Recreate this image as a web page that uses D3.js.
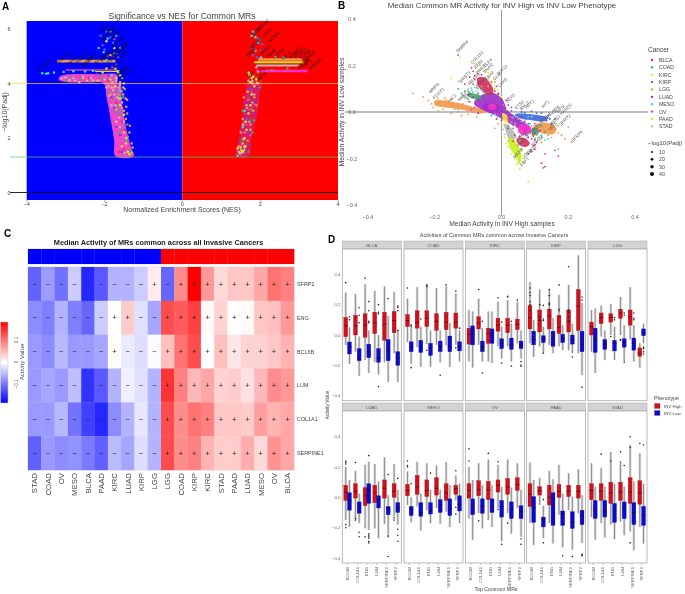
<!DOCTYPE html>
<html><head><meta charset="utf-8">
<script src="https://cdn.jsdelivr.net/npm/d3@7"></script>
<style>html,body{margin:0;padding:0;background:#fff}svg{display:block;filter:blur(.35px)}text{font-family:"Liberation Sans",Arial,sans-serif}</style>
</head><body><svg id="c" width="685" height="594"></svg>
<script>
// ---------- shared categories
const cancers=["BLCA","COAD","KIRC","KIRP","LGG","LUAD","MESO","OV","PAAD","STAD"];
const cancerColors=["#d8315b","#3fae5a","#ffe135","#4169e1","#f2994a","#9b30c8","#40e0d0","#ff2fd0","#c3f01e","#b9b9b9"];
const padjSizes=[10,20,30,40];

// ---------- panel A : [NES, -log10 padj]
const aBands={ // [-log10p, NES from, NES to]
 LGG:[[4.82,-3.22,-1.72],[4.88,1.95,3.08]],
 PAAD:[[4.46,-2.25,-1.62],[4.78,1.85,3.12]],
 STAD:[[4.66,1.9,3.0]],
 LUAD:[[4.5,-3.0,-1.7]],
 OV:[[4.46,1.9,3.22]]
};
const aHullLeft=[[-1.72,1.33],[-1.25,1.33],[-1.33,1.7],[-1.42,2.2],[-1.5,2.8],[-1.56,3.4],[-1.58,3.9],[-1.66,4.02],[-1.68,4.32],[-2.1,4.34],[-3.12,4.28],[-3.18,4.15],[-2.95,4.05],[-2.4,4.04],[-2.02,4.0],[-1.95,3.5],[-1.88,3.0],[-1.82,2.5],[-1.75,1.9]];
const aHullRight=[[1.38,1.34],[1.72,1.34],[1.78,2.0],[1.92,2.8],[1.98,3.5],[2.02,4.05],[1.68,4.05],[1.6,3.4],[1.52,2.6],[1.45,1.9]];
const aPoints={
 BLCA:[[-1.6,3.9],[-1.7,3.3],[-1.55,2.6],[-1.9,4.1],[-1.5,1.6],[1.7,2.4],[1.8,3.1],[1.65,1.8],[1.9,3.7],[1.85,4.3],[1.6,2.9],[1.75,2.7],[1.5,1.6],[1.95,3.3],[1.7,3.5],[2.0,5.2],[2.02,4.1],[1.55,2.2],[-1.8,4.6],[-2.4,4.2],[-1.48,2.3],[-1.62,1.5]],
 COAD:[[-1.45,1.9],[-1.38,1.45],[-1.6,3.0],[-1.52,3.5],[-1.65,2.2],[-1.42,2.5],[-1.7,3.7],[-1.35,1.55],[-1.58,2.85],[-2.6,4.15],[-3.0,4.1],[-2.1,4.25],[1.5,1.9],[1.62,2.6],[1.72,3.4],[1.8,2.2],[1.55,3.0],[1.9,4.2],[2.3,4.5],[2.7,4.55],[1.7,1.5],[-1.75,5.1],[2.0,5.6],[-1.88,3.7],[-1.8,3.4],[-1.72,2.95],[-1.6,3.55],[-1.66,3.15],[-1.52,2.35],[-1.4,2.05],[-2.3,4.08],[-2.85,4.2],[-2.0,4.18],[1.84,2.65],[1.98,3.85],[1.76,3.05]],
 KIRC:[[-1.5,2.2],[-1.4,1.5],[-1.6,3.2],[-1.72,3.9],[-1.85,5.05],[-1.95,5.55],[-1.75,5.3],[-1.65,4.4],[-1.55,1.7],[1.45,1.5],[1.5,1.65],[1.55,1.8],[1.6,2.0],[1.48,1.42],[1.65,2.3],[1.7,2.9],[1.78,3.6],[1.85,3.9],[1.75,4.05],[1.82,4.25],[1.58,1.55],[1.95,4.4],[1.75,3.2],[-1.7,2.6],[-1.45,1.8],[1.56,2.5],[1.62,1.7],[1.42,1.62],[1.53,1.48],[1.68,3.7],[1.92,4.02],[1.72,4.3]],
 KIRP:[[-1.85,5.7],[-1.95,5.9],[-2.0,5.25],[-1.78,5.5],[-1.65,4.95],[-1.7,4.7],[1.78,5.3],[1.85,5.85],[1.95,5.65],[1.82,5.05],[2.05,5.45],[1.92,4.95],[1.75,3.8],[1.65,2.7],[-2.1,5.75],[-1.55,3.6]],
 LGG:[[-1.48,3.8],[-1.42,3.4],[-1.5,3.0],[-1.45,2.7],[-1.36,2.2],[-1.3,1.8],[-1.3,1.45],[-1.42,2.9],[-1.52,3.6],[-1.9,3.9],[-1.6,4.05],[-1.7,3.95],[-1.35,2.45],[-1.28,1.65],[1.55,2.7],[1.6,2.2],[1.85,3.5],[1.75,2.5],[1.82,3.0],[1.68,1.9],[1.45,1.7],[1.95,4.0],[-1.44,3.15],[-1.5,4.0],[-1.56,3.72],[-1.64,3.6],[-1.76,3.85],[-1.85,3.6],[-1.46,3.45],[-1.55,3.1],[-2.55,4.18],[-2.2,4.1],[1.9,3.2],[1.5,2.2],[1.66,3.1],[1.58,3.5]],
 LUAD:[[-1.68,3.95],[-1.75,3.1],[-1.82,3.5],[-1.7,2.4],[-1.6,2.1],[-1.55,1.5],[-1.9,4.3],[-2.2,4.35],[-1.8,5.0],[-2.05,5.4],[1.5,2.3],[1.62,2.9],[1.7,3.6],[1.8,3.8],[1.9,3.4],[1.55,1.6],[1.68,2.2],[1.75,4.2],[1.85,2.9],[2.1,5.25],[1.9,5.5],[1.6,3.3],[1.47,1.9],[1.72,1.75],[1.96,3.8],[-1.92,5.0],[-1.75,5.62],[-1.68,5.1]],
 MESO:[[-1.95,4.85],[-2.02,5.15],[-1.92,5.65],[-1.6,5.3],[-1.7,5.75],[-1.82,4.3],[-1.6,3.75],[-3.6,4.38],[-3.5,4.36],[-3.45,4.38],[-3.3,4.4],[-3.05,4.42],[-2.8,4.45],[-2.5,4.44],[-2.3,4.47],[1.82,5.9],[1.78,5.75],[1.95,5.5],[1.88,5.2],[2.02,4.95],[1.7,4.4],[1.6,3.0],[1.72,2.6],[1.55,2.4],[1.8,3.3],[1.42,1.35],[1.88,5.7],[1.9,4.6],[2.4,5.0],[2.6,4.95],[-2.15,5.3],[-1.85,5.9]],
 OV:[[1.5,1.4],[1.6,1.45],[1.55,2.0],[1.65,2.5],[1.7,3.05],[1.78,3.7],[1.62,2.2],[1.42,1.55],[1.52,1.75],[1.88,3.95],[1.68,3.4],[1.84,3.25],[1.74,2.1],[1.58,2.55]],
 PAAD:[[-1.62,3.45],[-1.5,2.85],[-1.55,4.2],[-1.72,4.55],[1.55,1.5],[1.6,1.7],[1.52,1.55],[1.58,1.95],[1.63,2.6],[1.8,4.0],[1.72,4.35],[1.9,4.15],[1.78,4.2],[-1.44,2.0],[-1.36,1.4],[-1.6,4.3],[-1.7,4.2],[-1.85,4.15],[-1.95,4.55],[-2.05,4.4]],
 STAD:[[-1.7,4.1],[-1.8,4.05],[-2.0,4.15],[-2.3,4.12],[-2.8,4.2],[-3.0,4.22],[-1.75,3.6],[-1.62,3.85],[-1.55,3.3],[-1.72,3.2],[-1.6,2.4],[-1.82,3.85],[1.7,4.1],[1.8,4.1],[1.6,1.65],[1.5,1.45],[1.75,2.3],[1.85,3.6],[1.65,3.2],[-2.45,4.1],[-2.65,4.05],[-1.48,1.45],[-2.9,4.12],[-2.75,4.1],[-2.55,4.25],[-2.35,4.2],[-2.15,4.1],[-1.95,3.85],[-1.88,3.55],[-1.78,3.75],[-1.68,3.5],[-1.6,3.95],[-1.52,3.85],[-1.58,3.45],[-1.7,3.05],[-1.82,3.2],[-1.5,2.6],[-1.62,2.75],[-3.1,4.18]]
};
const aLabels=[["KCTD9",-3.68,4.42],["ZNF423",-3.18,4.72],["TSHZ3",-2.95,4.62],["HOXC9",-2.7,4.72],["MAFB",-2.55,4.6],["EBF1",-2.4,4.78],["FOXS1",-2.2,4.72],["PRDM6",-2.05,4.78],["TBX2",-1.9,4.72],["CREB3L1",-1.78,4.9],["GLI3",-1.72,4.55],["OSR1",-1.62,4.3],["MEOX2",-1.56,4.15],["PEG3",-2.1,5.82],["NFATC4",-2.05,5.55],["HIC1",-1.92,5.8],["SNAI2",-1.8,5.62],["ZFPM2",-1.78,5.3],["TWIST1",-1.7,5.05],["LHX9",-1.62,4.85],["ZEB1",1.68,4.95],["PRRX1",3.3,4.48],["TCF4",1.82,5.72],["MEF2C",1.95,5.9],["KLF2",2.12,5.7],["SOX11",2.25,5.5],["NR2F1",1.78,5.25],["BNC2",2.05,5.05],["TBX5",2.2,4.92],["ETS2",2.42,4.95],["HEY1",2.6,4.85],["HAND2",2.78,4.9],["FOXL1",2.92,4.9],["TCF21",3.05,4.85],["SNAI1",3.18,4.82],["GATA6",3.0,4.52],["LEF1",3.12,4.56],["ID4",1.72,4.2],["WT1",1.95,4.28],["NFIX",1.98,4.1]];

// ---------- panel B : [median in INV high, median in INV low]
const bHulls=[
 ["LGG",[[-.2,.048],[-.14,.042],[-.09,.024],[-.04,.004],[-.06,-.006],[-.11,.008],[-.16,.018],[-.2,.03]]],
 ["LGG",[[.095,-.06],[.13,-.045],[.165,-.07],[.155,-.095],[.11,-.085]]],
 ["KIRP",[[.04,-.01],[.1,-.012],[.14,-.025],[.13,-.04],[.09,-.036],[.05,-.025]]],
 ["OV",[[-.055,.03],[-.025,.04],[-.005,.02],[-.02,-.005],[-.05,.005]]],
 ["LUAD",[[-.08,.05],[-.035,.085],[0,.06],[.02,.005],[.08,-.06],[.085,-.09],[.05,-.07],[-.01,-.02],[-.05,.005],[-.08,.03]]],
 ["OV",[[-.04,.03],[-.02,.035],[-.015,.015],[-.035,.01]]],
 ["STAD",[[.008,-.05],[.03,-.07],[.045,-.11],[.025,-.118],[.012,-.08]]],
 ["COAD",[[-.1,.08],[-.065,.072],[-.06,.058],[-.095,.062]]],
 ["COAD",[[.092,-.07],[.112,-.078],[.108,-.098],[.092,-.098]]],
 ["PAAD",[[.02,-.115],[.032,-.112],[.06,-.185],[.052,-.225],[.044,-.195],[.026,-.155]]],
 ["OV",[[.055,-.055],[.085,-.06],[.09,-.085],[.07,-.1],[.05,-.085]]],
 ["BLCA",[[-.072,.145],[-.052,.148],[-.025,.1],[-.028,.075],[-.048,.08],[-.07,.112]]],
 ["BLCA",[[.045,-.118],[.068,-.112],[.085,-.135],[.072,-.15],[.052,-.14]]],
 ["KIRC",[[.002,-.005],[.015,-.012],[.02,-.04],[.01,-.045]]]
];
const bPoints={
 BLCA:[[-.13,.245],[-.09,.19],[-.085,.175],[-.07,.165],[-.095,.15],[-.08,.14],[-.03,.13],[-.015,.11],[-.02,.13],[.1,-.16],[.12,-.22],[.13,-.235],[.09,-.17],[.08,-.18],[.1,-.12],[-.11,.12],[-.08,.155],[-.06,.16],[-.04,.14],[-.085,.12],[-.02,.09],[-.01,.075],[.04,-.1],[.055,-.105],[.035,-.125],[.09,-.115],[.095,-.145],[.06,-.16]],
 COAD:[[-.13,.1],[-.11,.09],[-.04,.085],[-.12,.08],[-.05,.07],[.12,-.06],[.13,-.085],[.08,-.06],[.08,-.085],[.12,-.11],[.1,-.115],[.02,-.06],[.06,-.12],[-.115,.07],[-.1,.055],[-.075,.05],[-.03,.03],[.085,-.05],[.105,-.06],[.075,-.1],[.1,-.09],[.095,-.105]],
 KIRC:[[-.08,.21],[-.065,.2],[-.05,.18],[-.04,.14],[-.03,.12],[-.02,.1],[-.005,.08],[-.03,.165],[.005,.03],[.015,.01],[-.02,.14],[.03,-.02],[.04,-.06],[-.012,.095],[.0,.065],[.005,-.055],[.02,-.05]],
 KIRP:[[.03,.005],[.06,.0],[.09,.003],[.12,-.005],[.14,-.015],[.16,-.03],[.15,-.05],[.05,-.04],[.08,-.05],[.115,-.055],[.07,-.003],[.105,-.005],[.135,-.038],[.145,-.03],[.035,-.015]],
 LGG:[[-.265,.08],[-.235,.065],[-.22,.05],[-.21,.035],[-.19,.06],[-.17,.06],[-.15,.055],[-.19,.005],[-.15,-.005],[-.1,-.01],[-.075,-.02],[-.12,-.015],[-.01,-.05],[-.02,-.07],[.05,-.03],[.18,-.1],[.2,-.065],[.19,-.115],[.21,-.13],[.15,-.11],[.12,-.13],[-.13,.035],[-.1,.045],[-.18,.045],[-.205,.02],[-.175,.012],[-.14,.012],[-.165,.05],[-.115,.035],[-.085,.0],[.17,-.09],[.17,-.06],[.14,-.1],[.105,-.1]],
 LUAD:[[-.1,.075],[-.07,.08],[-.04,.095],[-.095,.045],[-.01,.08],[.03,.02],[.04,-.03],[.06,-.02],[.1,-.09],[.115,-.08],[.08,-.11],[-.07,-.005],[.02,-.07],[-.085,.065],[.015,.05],[.02,.03],[.03,-.015],[.05,-.04],[.07,-.04],[.095,-.07],[.0,-.035],[-.03,-.015],[-.015,-.03]],
 MESO:[[-.09,.1],[-.08,.105],[-.06,.095],[-.1,.09],[-.085,.08],[-.055,.085],[-.03,-.015],[-.02,-.01],[.11,-.11],[.13,-.12],[.14,-.115],[.17,-.16],[.08,-.02],[.12,-.1],[.1,-.08],[-.075,.09],[-.07,.1],[-.012,-.022],[.035,-.025],[.09,-.06]],
 OV:[[-.08,.02],[-.09,.01],[.02,.06],[.03,-.02],[.1,-.05],[.11,-.08],[.105,-.13],[.17,-.19],[.16,-.165],[.08,-.13],[.09,-.17],[.13,-.18],[.125,-.24],[.1,-.14],[-.02,.0],[-.07,.035],[-.065,.02],[.005,.03],[-.01,-.01],[.04,-.05],[.095,-.1],[.035,-.07],[.02,-.03]],
 PAAD:[[-.125,.235],[-.15,.145],[-.04,.17],[-.02,.13],[.01,-.11],[.015,-.135],[.05,-.22],[.055,-.245],[.05,-.19],[.06,-.16],[.035,-.17],[.08,-.3],[.04,-.2],[.07,-.22],[.055,-.21],[.045,-.225],[.03,-.18],[.02,-.15],[.07,-.18],[.065,-.2]],
 STAD:[[-.12,.13],[-.1,.1],[-.11,.06],[-.06,.11],[0,-.1],[0,-.05],[.015,-.025],[.06,-.04],[.06,-.1],[.02,-.125],[.055,-.125],[.09,-.02],[-.13,.01],[-.08,.005],[.005,-.075],[.01,-.095],[.03,-.045],[.04,-.05],[.05,-.085],[-.04,.11],[-.09,.105]]
};
const bLabels=[["BMBR4",-.13,.255],["COL1A1",-.088,.205],["ZEB2",-.078,.185],["TCF4",-.05,.19],["SNAI2",-.05,.165],["PRRX1",-.072,.16],["TWIST1",-.125,.12],["MEF2C",-.095,.115],["ZFPM2",-.075,.1],["FOXF1",-.2,.055],["MMP3",-.212,.08],["TBX2",-.045,.135],["GLI2",-.02,.135],["SOX11",-.01,.155],["LHX9",-.005,.105],["HIC1",-.155,.04],["NR2F1",-.125,.045],["EBF2",-.105,.055],["KLF2",.02,.04],["ETS2",.045,.01],["BNC2",.06,.005],["HEY1",.075,.012],["WT1",.125,.015],["ID4",.16,.0],["NFIX",.17,-.005],["HAND2",.18,-.015],["SFRP2",.178,-.06],["SFRP4",.214,-.13],["MEIS1",.15,-.06],["ETV5",.14,-.03],["FOXL1",.12,-.05],["TBX5",.145,-.085],["OSR1",.09,-.1],["PEG3",.05,-.125],["MAFB",.04,-.2],["EBF1",.06,-.235],["ATF3",.07,-.2],["LMO3",.08,-.185],["HOXC9",.05,-.15],["TSHZ3",.095,-.15]];

// ---------- panel C
const heatRows=["SFRP2","ENG","BCL6B","LUM","COL1A1","SERPINE1"];
const heatCols=["STAD","COAD","OV","MESO","BLCA","PAAD","KIRC","LUAD","KIRP","LGG","LGG","COAD","KIRP","KIRC","STAD","PAAD","LUAD","MESO","OV","BLCA"];
const heatPhenotype=["low","low","low","low","low","low","low","low","low","low","high","high","high","high","high","high","high","high","high","high"];
const heatValues=[
 [-.11,-.07,-.10,-.036,-.153,-.117,-.054,-.054,-.036,.014,-.108,.081,.18,.072,.027,.04,.04,.063,.099,.09],
 [-.081,-.09,-.054,-.09,-.108,-.036,0,.036,-.022,-.063,.126,.117,.135,.004,.032,0,.004,.04,.045,.072],
 [-.072,-.081,-.05,-.072,-.072,-.063,.002,-.014,-.023,-.002,.045,.099,.126,0,.045,.018,.032,.032,.04,.054],
 [-.072,-.063,-.072,-.045,-.144,-.117,-.054,-.011,-.022,-.054,.144,.09,.05,.063,.032,.036,.022,.05,.081,.072],
 [-.072,-.072,-.05,-.099,-.135,-.153,-.081,-.054,-.018,-.054,.126,.081,.099,.09,.04,.04,.036,.068,.054,.063],
 [-.112,-.072,-.081,-.076,-.094,-.112,-.049,-.063,-.023,-.054,.126,.081,.09,.054,.036,.036,.058,.027,.076,.063]];

// ---------- panel D : [low whisker,q1,median,q3,high whisker,[outliers]] per MR
const topMRs=["BCL6B","COL1A1","ENG","LUM","SERPINE1","SFRP2"];
const facets=["BLCA","COAD","KIRC","KIRP","LGG","LUAD","MESO","OV","PAAD","STAD"];
const boxHigh={
 BLCA:[[-.066,-.011,.06,.116,.28,[.345]],[-.11,0,.06,.13,.27,[]],[-.165,-.015,.065,.14,.335,[.375]],[-.18,.01,.08,.15,.29,[]],[-.18,-.035,.07,.15,.32,[]],[-.12,.015,.095,.155,.285,[]]],
 COAD:[[-.045,.055,.095,.135,.24,[.31]],[-.08,.045,.085,.16,.315,[]],[-.06,.055,.11,.16,.33,[.33,.32,-.1]],[-.065,.03,.09,.14,.31,[]],[-.07,.035,.085,.15,.32,[.33]],[-.065,.045,.085,.145,.275,[.29,-.085]]],
 KIRC:[[-.175,-.06,.005,.045,.165,[]],[-.065,.04,.08,.12,.24,[.3]],[-.175,-.055,.01,.045,.155,[]],[-.075,.025,.065,.11,.22,[.245]],[-.075,.015,.065,.11,.23,[.255,.25]],[-.055,.035,.07,.105,.22,[.23]]],
 KIRP:[[-.055,.04,.115,.195,.35,[.31,.28,.26,.22,.2,.16]],[-.075,.02,.095,.165,.3,[.2,.12,.1]],[-.065,.04,.125,.17,.3,[.3,.26,.21,.2,.17]],[-.075,.01,.05,.13,.265,[.33,.17,.16]],[-.1,.02,.09,.165,.33,[.45,.165,.15,.12,.09]],[-.12,.03,.19,.3,.525,[]]],
 LGG:[[-.11,0,.055,.085,.165,[]],[-.01,.075,.115,.145,.195,[]],[0,.085,.115,.14,.205,[-.01]],[0,.11,.145,.17,.25,[-.03,-.035]],[-.03,.065,.12,.165,.315,[]],[-.215,-.14,-.12,-.085,-.055,[]]],
 LUAD:[[-.15,-.02,.035,.08,.2,[.24,.23,.22,-.18,-.2]],[-.14,-.005,.04,.09,.175,[.23,-.14,-.15]],[-.205,-.055,.01,.065,.215,[-.26]],[-.205,-.035,.03,.08,.22,[]],[-.175,-.005,.06,.115,.265,[]],[-.125,0,.04,.09,.22,[-.135,-.15]]],
 MESO:[[-.05,.01,.045,.085,.17,[.24,.21,.2]],[-.06,.02,.07,.145,.235,[]],[-.085,.005,.045,.115,.225,[]],[-.07,.015,.06,.13,.21,[]],[-.095,-.02,.03,.09,.235,[]],[-.02,.02,.055,.08,.145,[.175,-.065,-.11]]],
 OV:[[-.14,-.005,.045,.09,.2,[.32,.24]],[-.105,.01,.05,.11,.225,[-.155]],[-.15,-.015,.05,.105,.25,[.29]],[-.07,.035,.08,.115,.215,[.235,-.08]],[-.105,.02,.07,.125,.25,[-.17]],[-.07,.045,.085,.13,.225,[]]],
 PAAD:[[-.17,-.06,.02,.09,.23,[]],[-.05,.015,.045,.07,.13,[]],[-.17,-.05,0,.08,.175,[]],[-.115,0,.04,.085,.215,[]],[-.085,.005,.04,.08,.16,[]],[-.105,-.005,.04,.08,.185,[]]],
 STAD:[[-.13,-.015,.045,.09,.225,[]],[-.17,-.02,.04,.09,.195,[.285]],[-.18,-.04,.03,.1,.3,[.24]],[-.16,-.02,.035,.1,.24,[.3]],[-.225,-.04,.035,.13,.345,[.4,.33,-.3]],[-.195,-.045,.03,.11,.29,[.355]]]
};
const boxLow={
 BLCA:[[-.19,-.125,-.08,-.046,.05,[.12,.1]],[-.27,-.17,-.16,-.09,-.01,[.18,.13,.08]],[-.25,-.15,-.11,-.06,.03,[.22,.16,.09,.08]],[-.26,-.18,-.15,-.09,0,[.2,.15,.14,-.34]],[-.31,-.17,-.1,-.03,.125,[.24]],[-.31,-.2,-.15,-.11,.03,[.19,.18,.16,.03]]],
 COAD:[[-.19,-.11,-.08,-.045,.055,[.065,.06,-.215]],[-.21,-.115,-.08,-.035,.055,[.105]],[-.21,-.135,-.085,-.055,.03,[]],[-.18,-.11,-.075,-.04,.03,[-.265]],[-.21,-.11,-.075,-.007,.08,[]],[-.175,-.105,-.075,-.045,.03,[.045]]],
 KIRC:[[-.215,-.065,.005,.06,.155,[]],[-.175,-.11,-.08,-.04,.045,[.09,-.08,-.085,-.25]],[-.185,-.055,.005,.04,.155,[]],[-.155,-.09,-.055,-.025,.055,[.085,-.185]],[-.175,-.095,-.065,-.02,.075,[.09,-.205]],[-.155,-.09,-.065,-.04,.03,[-.175,-.2,-.205]]],
 KIRP:[[-.145,-.065,-.03,.025,.1,[]],[-.12,-.05,-.025,-.005,.055,[.195,.105,.095,-.12]],[-.12,-.075,-.025,.025,.11,[]],[-.1,-.05,-.02,.005,.065,[]],[-.12,-.06,-.03,0,.075,[-.145]],[-.265,-.11,-.06,.025,.21,[.25,.23,-.345]]],
 LGG:[[-.25,-.115,-.03,.045,.175,[]],[-.165,-.095,-.06,-.03,.03,[]],[-.165,-.105,-.055,-.035,.055,[.115,.1]],[-.155,-.08,-.05,-.025,.065,[.145,.13,-.165,-.18]],[-.175,-.1,-.055,-.02,.065,[.145,.11,.1]],[-.055,-.005,.015,.04,.075,[-.08,-.09,-.11,-.125]]],
 LUAD:[[-.195,-.085,-.02,.03,.115,[]],[-.17,-.105,-.06,-.03,.025,[-.23,-.26]],[-.215,-.04,.045,.09,.235,[.275,-.24,-.25,-.26,-.27,-.29,-.3]],[-.27,-.07,-.015,.01,.105,[]],[-.24,-.115,-.07,-.06,.015,[.15,-.25,-.26,-.39]],[-.18,-.1,-.07,-.035,.05,[.125,-.21,-.25,-.29]]],
 MESO:[[-.165,-.12,-.075,-.06,0,[.09]],[-.22,-.125,-.1,-.035,.025,[]],[-.17,-.11,-.09,-.035,.05,[.16]],[-.175,-.1,-.05,-.015,.05,[]],[-.195,-.12,-.075,-.01,.08,[]],[-.17,-.09,-.045,.01,.09,[]]],
 OV:[[-.28,-.115,-.055,-.01,.115,[]],[-.205,-.105,-.06,-.01,.08,[]],[-.195,-.1,-.06,-.01,.08,[]],[-.29,-.13,-.06,-.02,.07,[-.31]],[-.24,-.14,-.08,-.03,.065,[]],[-.26,-.14,-.095,-.055,.05,[-.275,-.31]]],
 PAAD:[[-.315,-.165,-.07,.005,.115,[]],[-.27,-.195,-.145,-.13,-.055,[-.015,-.3]],[-.305,-.185,-.05,.03,.12,[]],[-.33,-.185,-.11,-.09,.025,[-.385]],[-.345,-.205,-.165,-.095,.005,[-.39]],[-.3,-.18,-.12,-.085,.015,[-.375,-.38,-.385]]],
 STAD:[[-.28,-.14,-.085,-.02,.07,[]],[-.265,-.13,-.09,-.02,.07,[]],[-.275,-.165,-.085,-.04,.09,[]],[-.25,-.14,-.07,-.03,.07,[.21]],[-.35,-.18,-.1,-.035,.105,[]],[-.305,-.185,-.115,-.06,.09,[.345]]]
};

// ---------- drawing
const svg=d3.select("#c");
const txt=(s,x,y,o={})=>{const t=svg.append("text").attr("x",x).attr("y",y).text(s)
 .attr("font-size",o.fs||6).attr("fill",o.fill||"#333").attr("text-anchor",o.anchor||"middle");
 if(o.bold)t.attr("font-weight","bold"); if(o.rot!=null)t.attr("transform",`rotate(${o.rot} ${x} ${y})`); return t;};
const color=d3.scaleOrdinal(cancers,cancerColors);
const closed=d3.line().curve(d3.curveCatmullRomClosed.alpha(.5));
[["A",2,10],["B",338,9],["C",4,237],["D",328,243]].forEach(d=>txt(d[0],d[1],d[2],{fs:10,bold:true,anchor:"start",fill:"#000"}));

// === A
{const x=d3.scaleLinear([-4,4],[26.7,338]),y=d3.scaleLinear([0,6],[192.5,29]);
 const g=svg.append("g");
 g.append("rect").attr("x",x(-4)).attr("y",21).attr("width",x(0)-x(-4)).attr("height",179).attr("fill","#0000ff");
 g.append("rect").attr("x",x(0)).attr("y",21).attr("width",x(4)-x(0)).attr("height",179).attr("fill","#ff0000");
 g.append("path").attr("d",closed(aHullLeft.map(d=>[x(d[0]),y(d[1])]))).attr("fill","#ee45cc");
 g.append("path").attr("d",closed(aHullRight.map(d=>[x(d[0]),y(d[1])]))).attr("fill","#b03ab8").attr("opacity",.45);
 Object.entries(aBands).forEach(([c,bs])=>bs.forEach(b=>g.append("line").attr("x1",x(b[1])).attr("x2",x(b[2])).attr("y1",y(b[0])).attr("y2",y(b[0])).attr("stroke",color(c)).attr("stroke-width",c==="OV"||c==="LGG"?2.6:2)));
 cancers.forEach(c=>g.append("g").selectAll("circle").data(aPoints[c]).join("circle").attr("cx",d=>x(d[0])).attr("cy",d=>y(d[1])).attr("r",1.25).attr("fill",color(c)));
 [[4,"#ffd83a"],[1.3,"#5fc75f"],[0,"#111"]].forEach(([v,col])=>g.append("line").attr("x1",10).attr("x2",338).attr("y1",y(v)).attr("y2",y(v)).attr("stroke",col).attr("stroke-width",v===0?1:.8).attr("opacity",.9));
 const lg=g.append("g");
 aLabels.forEach(l=>lg.append("text").attr("transform",`translate(${x(l[1])},${y(l[2])}) rotate(-42)`).text(l[0]).attr("font-size",4.6).attr("fill","#111"));
 [-4,-2,0,2,4].forEach(v=>{txt(v<0?"−"+(-v):v,x(v),205.5,{fs:5.5,fill:"#444"});g.append("line").attr("x1",x(v)).attr("x2",x(v)).attr("y1",200).attr("y2",202).attr("stroke","#666").attr("stroke-width",.5);});
 [0,2,4,6].forEach(v=>txt(v,9,y(v)+2,{fs:5.5,fill:"#444"}));
 txt("Significance vs NES for Common MRs",182,19,{fs:8.6,fill:"#444"});
 txt("Normalized Enrichment Scores (NES)",182,212,{fs:7,fill:"#444"});
 txt("−log10(Padj)",7,112,{fs:7,rot:-90,fill:"#444"});
}
// === B
{const x=d3.scaleLinear([-.4,.4],[368,635]),y=d3.scaleLinear([-.4,.4],[205,19]);
 const g=svg.append("g");
 g.append("line").attr("x1",345).attr("x2",648).attr("y1",y(0)).attr("y2",y(0)).attr("stroke","#bdbdbd").attr("stroke-width",1.8);
 g.append("line").attr("x1",x(0)).attr("x2",x(0)).attr("y1",10).attr("y2",216).attr("stroke","#9a9a9a").attr("stroke-width",1);
 bHulls.forEach(([c,h])=>g.append("path").attr("d",closed(h.map(d=>[x(d[0]),y(d[1])]))).attr("fill",color(c)).attr("opacity",.92));
 cancers.forEach(c=>g.append("g").selectAll("circle").data(bPoints[c]).join("circle").attr("cx",d=>x(d[0])).attr("cy",d=>y(d[1])).attr("r",.9).attr("fill",color(c)));
 bLabels.forEach(l=>g.append("text").attr("transform",`translate(${x(l[1])},${y(l[2])}) rotate(-45)`).text(l[0]).attr("font-size",4.4).attr("fill","#555"));
 [-.4,-.2,0,.2,.4].forEach(v=>{const s=(v<0?"−":"")+Math.abs(v).toFixed(1);txt(s,x(v),218.5,{fs:5.5,fill:"#666"});txt(s,352,y(v)+2,{fs:5.5,fill:"#666"});});
 txt("Median Common MR Activity for INV High vs INV Low Phenotype",502,8,{fs:7.9,fill:"#444"});
 txt("Median Activity in INV High samples",502,225.5,{fs:6.6,fill:"#444"});
 txt("Median Activity in INV Low samples",344,112,{fs:6.9,rot:-90,fill:"#444"});
 txt("Cancer",648,52,{fs:6.5,anchor:"start",fill:"#444"});
 cancers.forEach((c,i)=>{const yy=60+i*7.37;g.append("circle").attr("cx",652).attr("cy",yy).attr("r",1.2).attr("fill",color(c));txt(c,659,yy+2,{fs:5.2,anchor:"start",fill:"#444"});});
 txt("−log10(Padj)",648,145,{fs:6,anchor:"start",fill:"#444"});
 const rr=d3.scaleSqrt([10,40],[1,2]);
 padjSizes.forEach((s,i)=>{const yy=152+i*7.35;g.append("circle").attr("cx",652).attr("cy",yy).attr("r",rr(s)).attr("fill","#111");txt(s,659,yy+2,{fs:5.2,anchor:"start",fill:"#444"});});
}
// === C
{const idx=d3.range(20);
 const x=d3.scaleBand(idx,[28,294]),y=d3.scaleBand(heatRows,[267,470]);
 const col=d3.scaleLinear([-.18,0,.18],["#0000ff","#ffffff","#ff0000"]);
 const g=svg.append("g");
 g.append("rect").attr("x",27.5).attr("y",248.5).attr("width",267).attr("height",16).attr("fill","none").attr("stroke","#ddd").attr("stroke-width",.5);
 g.selectAll(".an").data(idx).join("rect").attr("x",i=>x(i)).attr("y",249).attr("width",x.bandwidth()+.3).attr("height",15).attr("fill",i=>heatPhenotype[i]==="low"?"#0000ff":"#ff0000");
 heatRows.forEach((r,ri)=>{
  g.append("g").selectAll("rect").data(heatValues[ri]).join("rect").attr("x",(d,i)=>x(i)).attr("y",y(r)).attr("width",x.bandwidth()+.3).attr("height",y.bandwidth()+.3).attr("fill",d=>col(d));
  g.append("g").selectAll("text").data(heatValues[ri]).join("text").attr("x",(d,i)=>x(i)+x.bandwidth()/2).attr("y",y(r)+y.bandwidth()/2+2.6).attr("text-anchor","middle").attr("font-size",7.5).attr("fill","#222").text(d=>d>=0?"+":"−");
  txt(r,297,y(r)+y.bandwidth()/2+2,{fs:5.4,anchor:"start",fill:"#444"});
 });
 g.append("rect").attr("x",27.5).attr("y",266.5).attr("width",267).attr("height",204).attr("fill","none").attr("stroke","#ddd").attr("stroke-width",.5);
 heatCols.forEach((c,i)=>txt(c,x(i)+x.bandwidth()/2+2.8,473,{fs:7.8,rot:-90,anchor:"end",fill:"#444"}));
 txt("Median Activity of MRs common across all Invasive Cancers",158.5,245,{fs:7.3,bold:true,fill:"#222"});
 const def=svg.append("defs").append("linearGradient").attr("id","lg").attr("x1",0).attr("x2",0).attr("y1",0).attr("y2",1);
 [[0,"#ff0000"],[.5,"#fff"],[1,"#0000ff"]].forEach(s=>def.append("stop").attr("offset",s[0]).attr("stop-color",s[1]));
 g.append("rect").attr("x",.5).attr("y",322).attr("width",7.5).attr("height",81).attr("fill","url(#lg)").attr("stroke","#ccc").attr("stroke-width",.5);
 [[.1,340],[0,362],[-.1,384]].forEach(([v,yy])=>txt(v<0?"−0.1":v,18,yy,{fs:4.6,rot:-90,fill:"#555"}));
 txt("Activity Value",24,362,{fs:6.2,rot:-90,fill:"#444"});
}
// === D
{const panelX=[342.3,404,465.5,526.5,588],pw=59;
 const rows=[{top:249,bot:400.7,strip:241,y:d3.scaleLinear([-.4,.4],[395.7,274.3])},{top:411,bot:563,strip:403,y:d3.scaleLinear([-.4,.4],[558,436.7])}];
 facets.forEach((f,fi)=>{
  const row=rows[fi<5?0:1],px=panelX[fi%5];
  const x=d3.scalePoint(topMRs,[px,px+pw]).padding(.55),y=row.y;
  const g=svg.append("g");
  g.append("rect").attr("x",px).attr("y",row.strip).attr("width",pw).attr("height",8).attr("fill","#d3d3d3").attr("stroke","#999").attr("stroke-width",.4);
  g.append("rect").attr("x",px).attr("y",row.top).attr("width",pw).attr("height",row.bot-row.top).attr("fill","#fff").attr("stroke","#aaa").attr("stroke-width",.8);
  txt(f,px+pw/2,row.strip+5.8,{fs:4.2,fill:"#555"});
  [[boxHigh,-1.85,"#d1101c","#8a1018"],[boxLow,1.85,"#0a0ad2","#10107a"]].forEach(([src,off,fill,stroke])=>{
   src[f].forEach((b,i)=>{const cx=x(topMRs[i])+off,w=3.9;
    g.append("line").attr("x1",cx).attr("x2",cx).attr("y1",y(b[0])).attr("y2",y(b[4])).attr("stroke","#c9c9c9").attr("stroke-width",2.6).attr("opacity",.7);
    g.append("line").attr("x1",cx).attr("x2",cx).attr("y1",y(b[0])).attr("y2",y(b[4])).attr("stroke","#444").attr("stroke-width",.5);
    g.append("rect").attr("x",cx-w/2).attr("y",y(b[3])).attr("width",w).attr("height",y(b[1])-y(b[3])).attr("fill",fill).attr("stroke",stroke).attr("stroke-width",.3);
    g.append("line").attr("x1",cx-w/2).attr("x2",cx+w/2).attr("y1",y(b[2])).attr("y2",y(b[2])).attr("stroke","#300").attr("stroke-width",.6);
    g.append("g").selectAll("circle").data(b[5]).join("circle").attr("cx",cx).attr("cy",d=>y(d)).attr("r",.8).attr("fill","#222");
   });
  });
  if(fi%5===0)[-.4,-.2,0,.2,.4].forEach(v=>txt((v<0?"−":"")+Math.abs(v).toFixed(1),340.5,y(v)+1.6,{fs:4.4,anchor:"end",fill:"#666"}));
  if(fi>=5)topMRs.forEach(m=>{g.append("line").attr("x1",x(m)).attr("x2",x(m)).attr("y1",563).attr("y2",565).attr("stroke","#777").attr("stroke-width",.4);
    txt(m,x(m)+1.5,567,{fs:4.2,rot:-90,anchor:"end",fill:"#666"});});
 });
 txt("Activities of Common MRs common across Invasive Cancers",494,237,{fs:5.5,fill:"#444"});
 txt("Top Common MRs",496,591,{fs:5.2,fill:"#444"});
 txt("Activity Value",328.5,405,{fs:4.8,rot:-90,fill:"#444"});
 txt("Phenotype",654,400,{fs:5.2,anchor:"start",fill:"#444"});
 [["INV High","#d1101c",403.5],["INV Low","#0a0ad2",410.5]].forEach(([n,c,yy])=>{
  svg.append("rect").attr("x",654.5).attr("y",yy).attr("width",5.5).attr("height",5).attr("fill",c).attr("stroke","#555").attr("stroke-width",.3);
  txt(n,664,yy+4.2,{fs:4.4,anchor:"start",fill:"#444"});});
}
</script></body></html>
